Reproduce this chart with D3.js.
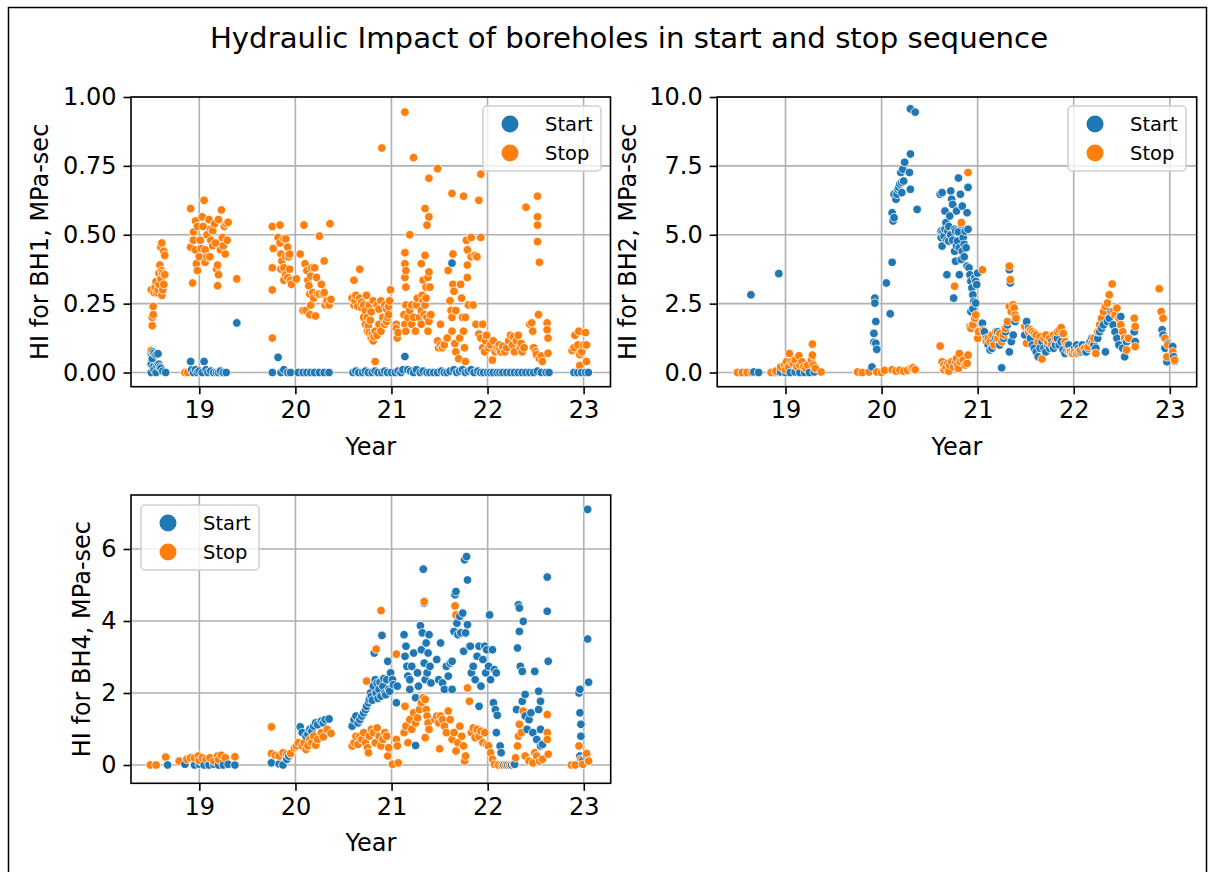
<!DOCTYPE html>
<html>
<head>
<meta charset="utf-8">
<script src="https://cdn.jsdelivr.net/npm/d3@7"></script>
<style>
  html, body { margin: 0; padding: 0; background: #ffffff; }
  svg { display: block; font-family: "DejaVu Sans", sans-serif; }
</style>
</head>
<body>
<svg id="fig" width="1212" height="872"></svg>
<script>
// Hydraulic impact (MPa-sec) per start / stop event, as [year since 2000, HI]
const years = [19, 20, 21, 22, 23];
const seriesNames = ["Start", "Stop"];

const bh1Start = [
  [18.50,0.07],[18.51,0.05],[18.52,0.075],[18.53,0.07],[18.55,0.065],[18.57,0.068],[18.50,0.03],[18.52,0.02],
  [18.53,0.01],[18.55,0.0],[18.56,0.025],[18.58,0.03],[18.59,0.02],[18.60,0.015],[18.62,0.005],[18.65,0.0],[18.50,0.0],
  [18.91,0.04],[18.92,0.01],[18.94,0.0],[18.96,0.01],[18.98,0.0],[19.00,0.005],[19.03,0.0],[19.05,0.04],[19.07,0.01],
  [19.09,0.0],[19.12,0.005],[19.15,0.0],[19.18,0.0],[19.20,0.0],[19.22,0.005],[19.25,0.0],[19.28,0.0],[19.39,0.18],
  [19.76,0.0],[19.82,0.055],[19.85,0.0],[19.88,0.01],[19.92,0.0],[19.95,0.0],[20.03,0.0],[20.08,0.0],[20.12,0.0],
  [20.16,0.0],[20.20,0.0],[20.25,0.0],[20.30,0.0],[20.35,0.0],
  [20.60,0.0],[20.63,0.005],[20.66,0.0],[20.70,0.0],[20.73,0.005],[20.76,0.0],[20.80,0.0],[20.83,0.005],[20.86,0.0],
  [20.90,0.0],[20.93,0.005],[20.96,0.0],[21.00,0.0],[21.04,0.0],[21.07,0.005],[21.10,0.0],[21.12,0.01],[21.14,0.058],
  [21.17,0.01],[21.20,0.005],[21.23,0.0],[21.26,0.01],[21.30,0.0],[21.33,0.005],[21.37,0.0],[21.40,0.0],[21.44,0.0],
  [21.48,0.0],[21.52,0.005],[21.55,0.0],[21.58,0.0],[21.61,0.005],[21.63,0.397],[21.65,0.01],[21.68,0.0],[21.71,0.005],
  [21.74,0.01],[21.77,0.0],[21.80,0.005],[21.83,0.01],[21.86,0.0],[21.90,0.005],[21.93,0.0],[21.96,0.0],[22.00,0.0],
  [22.03,0.0],[22.06,0.0],[22.10,0.0],[22.13,0.0],[22.16,0.0],[22.20,0.0],[22.24,0.0],[22.28,0.0],[22.32,0.0],
  [22.36,0.0],[22.40,0.0],[22.44,0.0],[22.48,0.0],[22.52,0.005],[22.56,0.0],[22.61,0.0],[22.64,0.0],
  [22.90,0.0],[22.94,0.0],[22.98,0.0],[23.02,0.0],[23.05,0.0]
];

const bh1Stop = [
  [18.50,0.08],[18.51,0.17],[18.51,0.20],[18.52,0.21],[18.52,0.24],[18.50,0.30],[18.54,0.31],[18.56,0.29],[18.58,0.32],
  [18.60,0.34],[18.61,0.37],[18.59,0.39],[18.60,0.455],[18.63,0.44],[18.64,0.425],[18.62,0.36],[18.61,0.28],[18.63,0.32],
  [18.64,0.355],[18.61,0.47],[18.57,0.30],[18.55,0.33],[18.58,0.36],[18.62,0.30],[18.53,0.29],[18.85,0.0],[18.88,0.0],
  [18.91,0.595],[18.93,0.325],[18.94,0.51],[18.96,0.445],[18.97,0.395],[18.91,0.455],[18.93,0.48],[18.98,0.37],[19.00,0.42],
  [19.01,0.48],[19.03,0.565],[19.05,0.625],[19.04,0.53],[19.06,0.445],[19.08,0.50],[19.10,0.555],[19.11,0.42],[19.12,0.48],
  [19.14,0.515],[19.16,0.54],[19.17,0.47],[19.19,0.39],[19.20,0.555],[19.22,0.445],[19.23,0.59],[19.24,0.49],[19.26,0.53],
  [19.27,0.43],[19.28,0.54],[19.29,0.48],[19.30,0.545],[19.20,0.355],[19.18,0.375],[19.19,0.315],[19.12,0.52],[19.08,0.42],
  [18.98,0.53],[18.96,0.55],[18.94,0.48],[19.02,0.45],[19.06,0.40],[19.14,0.46],[19.25,0.46],[19.39,0.34],
  [19.76,0.53],[19.77,0.45],[19.76,0.38],[19.76,0.30],[19.76,0.125],[19.84,0.535],[19.82,0.49],[19.84,0.47],[19.88,0.485],
  [19.90,0.485],[19.85,0.43],[19.86,0.405],[19.88,0.38],[19.90,0.42],[19.92,0.455],[19.85,0.375],[19.88,0.335],[19.90,0.355],
  [19.92,0.345],[19.94,0.375],[19.95,0.335],[19.96,0.32],[19.93,0.42],[19.94,0.43],[20.01,0.34],
  [20.05,0.43],[20.09,0.535],[20.08,0.225],[20.11,0.225],[20.10,0.395],[20.12,0.37],[20.13,0.335],[20.14,0.315],[20.15,0.285],
  [20.16,0.35],[20.17,0.38],[20.18,0.29],[20.20,0.38],[20.21,0.205],[20.22,0.345],[20.23,0.285],[20.25,0.495],[20.25,0.285],
  [20.27,0.32],[20.29,0.285],[20.30,0.405],[20.30,0.29],[20.31,0.245],[20.33,0.26],[20.36,0.54],[20.37,0.265],[20.35,0.245],
  [20.15,0.21],[20.16,0.245],[20.19,0.27],
  [20.61,0.335],[20.67,0.375],[20.59,0.27],[20.61,0.245],[20.63,0.28],[20.65,0.24],[20.67,0.27],[20.69,0.235],[20.71,0.245],
  [20.73,0.225],[20.71,0.20],[20.73,0.175],[20.75,0.20],[20.75,0.15],[20.77,0.145],[20.79,0.125],[20.81,0.115],[20.83,0.15],
  [20.85,0.135],[20.83,0.04],[20.87,0.175],[20.89,0.15],[20.91,0.20],[20.93,0.245],[20.89,0.26],[20.85,0.245],[20.81,0.26],
  [20.77,0.245],[20.74,0.28],[20.90,0.815],[20.95,0.23],[20.97,0.21],[20.98,0.26],[20.99,0.30],[20.95,0.185],[20.93,0.175],
  [20.96,0.20],[21.05,0.175],[21.05,0.16],[21.06,0.125],[21.07,0.145],[20.62,0.26],[20.69,0.255],[20.79,0.22],[20.87,0.23],
  [20.97,0.24],[20.76,0.17],[20.78,0.19],[20.80,0.14],[20.82,0.13],
  [21.14,0.945],[21.23,0.78],[21.19,0.50],[21.14,0.435],[21.14,0.395],[21.15,0.37],[21.14,0.345],[21.15,0.31],[21.15,0.245],
  [21.13,0.21],[21.14,0.175],[21.15,0.15],[21.17,0.20],[21.19,0.225],[21.21,0.245],[21.21,0.175],[21.23,0.20],[21.25,0.15],
  [21.26,0.245],[21.27,0.27],[21.29,0.20],[21.31,0.175],[21.31,0.225],[21.32,0.28],[21.33,0.26],[21.34,0.21],[21.35,0.245],
  [21.36,0.27],[21.37,0.20],[21.31,0.395],[21.33,0.335],[21.35,0.425],[21.35,0.595],[21.37,0.535],[21.39,0.565],[21.39,0.705],
  [21.36,0.31],[21.38,0.345],[21.39,0.365],[21.40,0.31],[21.41,0.21],[21.39,0.185],[21.38,0.15],[21.48,0.74],[21.51,0.175],
  [21.48,0.115],[21.49,0.09],[21.51,0.10],[21.53,0.09],[21.55,0.10],[21.58,0.125],[21.59,0.37],[21.61,0.26],[21.62,0.225],
  [21.63,0.20],[21.63,0.15],[21.63,0.65],[21.64,0.43],[21.64,0.32],[21.65,0.295],[21.67,0.225],[21.66,0.105],[21.67,0.075],
  [21.70,0.05],[21.71,0.125],[21.72,0.32],[21.73,0.27],[21.74,0.20],[21.75,0.15],[21.75,0.64],[21.76,0.09],[21.77,0.20],
  [21.78,0.48],[21.79,0.39],[21.79,0.345],[21.79,0.445],[21.80,0.245],[21.77,0.04],[21.83,0.49],[21.83,0.42],[21.85,0.245],
  [21.87,0.425],[21.88,0.175],[21.89,0.42],[21.91,0.14],[21.91,0.625],[21.93,0.72],[21.93,0.49],[21.95,0.175],[21.93,0.125],
  [21.95,0.09],
  [21.97,0.075],[21.98,0.115],[21.99,0.135],[22.01,0.09],[22.03,0.10],[22.05,0.045],[22.06,0.115],[22.08,0.075],[22.10,0.09],
  [22.12,0.10],[22.14,0.075],[22.16,0.095],[22.18,0.075],[22.20,0.09],[22.22,0.115],[22.24,0.135],[22.26,0.10],[22.28,0.075],
  [22.30,0.115],[22.32,0.135],[22.34,0.09],[22.36,0.075],[22.38,0.09],[22.40,0.60],[22.44,0.175],[22.46,0.18],[22.47,0.15],
  [22.48,0.09],[22.50,0.075],[22.51,0.065],[22.52,0.64],[22.52,0.565],[22.52,0.535],[22.52,0.475],[22.54,0.40],[22.53,0.21],
  [22.54,0.05],[22.56,0.06],[22.57,0.04],[22.62,0.18],[22.62,0.155],[22.63,0.125],[22.63,0.07],[22.35,0.105],[22.27,0.13],
  [22.12,0.08],
  [22.88,0.08],[22.90,0.09],[22.91,0.135],[22.94,0.10],[22.95,0.15],[22.96,0.065],[22.96,0.025],[22.98,0.075],[23.00,0.10],
  [23.02,0.145],[23.03,0.10],[23.03,0.04]
];

const bh2Start = [
  [18.50,0.0],[18.55,0.0],[18.60,0.0],[18.64,2.82],[18.67,0.02],[18.72,0.0],[18.85,0.0],[18.90,0.0],[18.93,3.59],
  [18.95,0.02],[19.00,0.0],[19.05,0.0],[19.10,0.02],[19.15,0.0],[19.20,0.0],[19.25,0.0],[19.30,0.02],
  [19.93,2.70],[19.93,2.52],[19.94,1.85],[19.92,1.42],[19.92,1.10],[19.94,1.06],[19.95,0.84],[19.90,0.20],[20.05,3.25],
  [20.11,4.0],[20.09,2.13],[20.11,5.8],[20.12,5.5],[20.13,5.62],[20.13,6.47],[20.15,6.29],[20.16,6.47],[20.17,6.65],
  [20.18,6.72],[20.19,6.84],[20.21,6.90],[20.21,6.53],[20.20,7.26],[20.22,7.38],[20.24,7.63],[20.23,6.95],[20.29,7.26],
  [20.30,7.93],[20.30,6.65],[20.30,9.57],[20.35,9.45],[20.37,5.92],
  [20.61,6.47],[20.63,6.53],[20.62,5.13],[20.63,4.59],[20.65,4.95],[20.66,5.86],[20.67,5.44],[20.68,3.55],[20.69,5.13],
  [20.70,4.77],[20.71,5.68],[20.72,6.59],[20.73,6.29],[20.74,6.10],[20.75,2.70],[20.76,4.40],[20.77,4.04],[20.77,5.13],
  [20.78,5.86],[20.79,4.77],[20.80,7.06],[20.81,4.53],[20.81,3.55],[20.82,6.47],[20.83,5.38],[20.83,4.10],[20.84,6.04],
  [20.85,4.90],[20.86,4.65],[20.87,5.13],[20.88,4.53],[20.89,5.80],[20.89,3.86],[20.90,6.72],[20.90,5.20],[20.91,3.80],
  [20.92,3.55],[20.93,3.31],[20.94,3.07],[20.95,2.82],[20.96,2.58],[20.97,3.43],[20.98,3.31],[20.99,3.19],[21.00,3.61],
  [20.93,2.21],[20.95,2.31],[20.98,2.52],[20.62,4.9],[20.64,5.1],[20.66,5.2],[20.68,4.8],[20.70,5.3],[20.72,5.0],
  [20.74,4.8],[20.76,5.2],[20.78,4.6],[20.80,5.1],[20.84,4.4],[20.86,4.2],
  [21.05,1.79],[21.07,1.48],[21.09,1.24],[21.11,1.0],[21.13,0.82],[21.15,0.88],[21.17,1.12],[21.19,1.24],[21.21,1.48],
  [21.23,1.0],[21.25,0.17],[21.27,1.24],[21.29,1.48],[21.31,1.73],[21.33,3.73],[21.34,3.25],[21.33,0.75],[21.35,1.12],
  [21.37,1.36],[21.39,1.85],
  [21.49,1.36],[21.51,1.85],[21.53,1.60],[21.55,1.24],[21.57,1.0],[21.59,0.88],[21.61,0.75],[21.63,0.57],[21.65,0.88],
  [21.67,1.12],[21.69,0.88],[21.71,0.75],[21.73,1.0],[21.75,0.88],[21.77,1.12],[21.79,0.88],[21.81,1.0],[21.83,1.24],
  [21.85,1.0],[21.87,1.12],[21.89,0.82],[21.91,0.69],[21.93,0.82],[21.95,1.0],[21.97,0.75],[21.99,0.69],
  [22.01,0.88],[22.03,1.0],[22.05,0.88],[22.07,0.75],[22.09,1.0],[22.11,0.88],[22.13,0.75],[22.15,0.88],[22.17,1.12],
  [22.19,1.24],[22.21,1.0],[22.23,0.88],[22.25,1.24],[22.27,1.48],[22.29,1.60],[22.31,1.73],[22.33,0.75],[22.35,1.85],
  [22.37,1.97],[22.39,2.21],[22.41,1.73],[22.43,1.48],[22.45,1.24],[22.47,1.0],[22.49,2.03],[22.51,0.88],[22.53,0.57],
  [22.55,1.12],[22.57,1.24],[22.63,1.48],[22.64,1.12],
  [22.92,1.55],[22.93,1.36],[22.95,0.88],[22.97,0.39],[22.98,1.06],[23.03,0.94],[23.04,0.57],[23.05,0.41]
];

const bh2Stop = [
  [18.50,0.0],[18.55,0.0],[18.60,0.0],[18.65,0.0],[18.85,0.0],[18.90,0.05],[18.95,0.2],[18.99,0.27],[19.01,0.39],
  [19.03,0.20],[19.04,0.69],[19.06,0.39],[19.08,0.33],[19.10,0.45],[19.14,0.61],[19.15,0.27],[19.17,0.39],[19.19,0.20],
  [19.21,0.15],[19.23,0.27],[19.27,0.45],[19.28,0.63],[19.28,1.03],[19.29,0.27],[19.31,0.15],[19.37,0.02],[19.12,0.2],
  [19.00,0.1],
  [19.75,0.02],[19.80,0.0],[19.87,0.02],[19.95,0.02],[20.00,0.0],[20.03,0.08],[20.11,0.1],[20.15,0.05],[20.19,0.08],
  [20.23,0.05],[20.27,0.08],[20.31,0.15],[20.33,0.17],[20.35,0.1],
  [20.61,0.96],[20.63,0.39],[20.65,0.27],[20.67,0.20],[20.69,0.33],[20.71,0.27],[20.73,0.39],[20.75,0.20],[20.76,3.13],
  [20.77,0.39],[20.78,0.51],[20.79,0.27],[20.81,0.69],[20.82,0.39],[20.83,5.44],[20.85,0.45],[20.87,0.27],[20.89,0.33],
  [20.90,0.63],[20.90,7.26],[20.92,1.67],[20.93,1.60],[20.95,1.73],[20.97,1.97],[20.98,2.09],[21.00,1.24],[21.01,1.48],
  [21.05,3.73],[21.06,1.54],[20.65,0.1],[20.70,0.05],[20.80,0.15],
  [21.09,1.12],[21.11,1.24],[21.13,1.12],[21.15,1.36],[21.17,1.0],[21.19,1.48],[21.21,1.24],[21.23,1.42],[21.25,1.12],
  [21.27,1.36],[21.29,1.60],[21.31,1.85],[21.33,3.86],[21.34,3.37],[21.33,2.40],[21.35,2.21],[21.37,2.46],[21.39,2.09],
  [21.40,1.97],[21.38,2.34],
  [21.49,1.67],[21.51,1.06],[21.53,1.48],[21.55,1.55],[21.57,1.48],[21.59,1.42],[21.61,1.36],[21.63,1.12],[21.65,1.30],
  [21.67,0.49],[21.69,1.24],[21.71,1.36],[21.73,1.12],[21.75,1.24],[21.77,1.0],[21.79,1.36],[21.81,1.24],[21.83,1.48],
  [21.85,1.55],[21.87,1.63],[21.89,1.42],[21.91,1.12],[21.93,1.0],[21.95,0.75],[21.97,0.75],[21.99,0.69],
  [22.01,0.75],[22.03,0.69],[22.05,0.75],[22.07,0.82],[22.11,0.88],[22.15,0.94],[22.19,1.06],[22.21,1.24],[22.23,0.69],
  [22.25,1.48],[22.27,1.73],[22.29,1.97],[22.31,2.21],[22.33,2.40],[22.35,2.52],[22.37,2.82],[22.40,3.21],[22.41,2.21],
  [22.43,2.09],[22.45,2.34],[22.47,1.97],[22.49,1.73],[22.51,1.48],[22.53,1.24],[22.55,0.82],[22.57,1.24],[22.63,1.97],
  [22.64,1.67],[22.64,0.94],
  [22.89,3.04],[22.91,2.21],[22.93,1.97],[22.95,1.24],[22.97,0.57],[22.98,1.0],[23.03,0.75],[23.05,0.45]
];

const bh4Start = [
  [18.67,0.0],[18.85,0.02],[18.95,0.0],[19.00,0.02],[19.05,0.0],[19.10,0.0],[19.15,0.02],[19.20,0.0],[19.25,0.0],
  [19.30,0.02],[19.37,0.0],
  [19.75,0.06],[19.83,0.03],[19.87,0.0],[19.91,0.16],[19.93,0.25],[19.95,0.32],[20.05,1.06],[20.07,0.90],[20.11,0.80],
  [20.13,0.85],[20.15,0.99],[20.17,0.94],[20.19,1.08],[20.21,1.17],[20.23,1.12],[20.27,1.22],[20.29,1.17],[20.31,1.26],
  [20.35,1.28],
  [20.59,1.08],[20.61,1.26],[20.63,1.36],[20.65,1.17],[20.67,1.26],[20.69,1.36],[20.71,1.45],[20.73,1.54],[20.74,1.63],
  [20.76,1.73],[20.77,1.82],[20.78,2.0],[20.79,1.91],[20.81,2.19],[20.83,2.37],[20.85,2.28],[20.82,3.11],[20.90,3.60],
  [20.87,2.10],[20.89,1.91],[20.91,2.19],[20.93,2.0],[20.95,2.37],[20.96,2.88],[20.97,2.10],[20.99,2.56],[21.01,2.37],
  [21.02,2.23],[21.05,1.73],[21.06,2.19],[20.80,1.8],[20.84,2.0],[20.86,1.85],[20.88,2.3],[20.92,2.4],[20.94,1.95],
  [20.98,2.05],
  [21.13,3.62],[21.15,3.30],[21.14,3.02],[21.16,2.74],[21.17,2.47],[21.19,2.37],[21.19,2.10],[21.21,2.74],[21.23,3.11],
  [21.25,1.87],[21.25,0.54],[21.27,2.56],[21.28,2.19],[21.30,3.87],[21.31,3.20],[21.32,3.67],[21.33,5.44],[21.34,4.50],
  [21.34,2.83],[21.35,2.37],[21.36,3.39],[21.37,2.56],[21.38,3.11],[21.39,3.62],[21.40,2.74],[21.41,2.28],
  [21.47,2.93],[21.49,2.37],[21.51,3.39],[21.53,2.28],[21.55,2.10],[21.57,2.74],[21.59,2.47],[21.61,2.83],[21.63,2.10],
  [21.63,2.88],[21.65,3.71],[21.66,4.73],[21.67,4.82],[21.68,3.94],[21.69,3.62],[21.71,4.13],[21.72,3.67],[21.74,4.22],
  [21.75,3.16],[21.76,5.70],[21.78,5.79],[21.79,5.14],[21.77,3.67],[21.79,3.90],[21.81,3.30],[21.82,3.30],
  [21.83,2.56],[21.85,2.74],[21.87,2.37],[21.89,3.02],[21.91,3.30],[21.91,1.63],[21.93,2.19],[21.95,2.93],[21.97,3.30],
  [21.98,2.56],[21.99,3.20],[22.01,2.74],[22.02,4.17],[22.03,2.37],[22.05,3.20],[22.06,1.73],[22.07,2.65],[22.09,2.56],
  [22.08,1.54],[22.10,1.38],[22.09,0.90],[22.13,0.53],[22.14,0.34],[22.17,0.0],[22.21,0.0],[22.25,0.0],[22.28,0.02],
  [22.30,1.54],[22.31,3.25],[22.32,4.45],[22.33,4.36],[22.33,3.71],[22.34,2.74],[22.36,2.60],[22.37,3.99],[22.36,1.77],
  [22.39,1.96],[22.39,1.36],[22.41,0.99],[22.43,1.26],[22.45,1.45],[22.47,0.90],[22.49,2.60],[22.51,0.71],[22.53,1.54],
  [22.53,2.05],[22.55,1.77],[22.55,0.99],[22.57,0.57],[22.62,5.22],[22.62,4.27],[22.63,2.88],[22.55,0.53],
  [22.95,2.0],[22.96,2.10],[22.96,1.45],[22.97,1.13],[22.97,0.80],[22.96,0.25],[22.99,0.11],[23.04,7.10],[23.04,3.50],
  [23.05,2.30],[23.03,0.25],[23.05,0.11]
];

const bh4Stop = [
  [18.49,0.0],[18.55,0.0],[18.65,0.22],[18.79,0.11],[18.87,0.16],[18.91,0.2],[18.95,0.2],[18.99,0.25],[19.03,0.2],
  [19.07,0.16],[19.11,0.2],[19.15,0.11],[19.19,0.25],[19.23,0.27],[19.27,0.2],[19.37,0.23],[19.00,0.12],[19.20,0.15],
  [19.75,1.06],[19.75,0.32],[19.79,0.27],[19.83,0.25],[19.87,0.34],[19.91,0.3],[19.95,0.32],[19.99,0.48],[20.01,0.53],
  [20.03,0.62],[20.07,0.53],[20.09,0.62],[20.11,0.43],[20.13,0.53],[20.15,0.71],[20.17,0.62],[20.19,0.8],[20.21,0.55],
  [20.23,0.71],[20.27,0.9],[20.29,0.78],[20.33,0.99],[20.37,0.88],
  [20.59,0.53],[20.61,0.62],[20.63,0.8],[20.65,0.57],[20.67,0.8],[20.69,0.71],[20.71,0.9],[20.73,0.62],[20.74,2.33],
  [20.75,0.48],[20.76,0.34],[20.77,0.8],[20.79,0.99],[20.81,0.9],[20.83,0.62],[20.84,3.22],[20.85,1.03],[20.87,0.8],
  [20.89,4.29],[20.89,0.53],[20.91,0.71],[20.93,0.9],[20.95,0.8],[20.96,0.25],[20.97,0.48],[21.01,0.02],[21.05,3.08],
  [21.05,0.71],[21.06,0.53],[21.07,0.06],
  [21.13,0.9],[21.14,1.63],[21.15,1.08],[21.17,0.62],[21.19,1.26],[21.21,0.99],[21.23,1.45],[21.25,1.17],[21.27,1.31],
  [21.29,1.54],[21.31,1.73],[21.33,1.87],[21.34,4.54],[21.35,1.82],[21.36,1.54],[21.37,1.36],[21.38,1.17],[21.35,0.76],
  [21.39,0.99],
  [21.45,1.26],[21.47,1.36],[21.49,1.17],[21.50,0.45],[21.51,1.36],[21.53,1.26],[21.55,1.08],[21.57,0.90],[21.59,1.50],
  [21.61,1.26],[21.63,0.71],[21.65,0.90],[21.66,4.42],[21.67,4.17],[21.67,0.39],[21.69,0.62],[21.71,1.08],[21.73,0.80],
  [21.75,0.53],[21.76,0.11],[21.77,0.25],[21.79,2.14],[21.81,1.77],[21.83,0.90],[21.85,1.03],[21.87,0.76],[21.89,0.99],
  [21.91,0.80],[21.93,0.94],[21.95,0.62],[21.97,0.90],[21.99,0.57],
  [22.01,0.53],[22.03,0.34],[22.05,0.16],[22.07,0.02],[22.11,0.0],[22.15,0.0],[22.19,0.0],[22.23,0.0],[22.27,0.02],
  [22.29,0.2],[22.31,0.53],[22.32,0.80],[22.33,1.13],[22.35,0.90],[22.37,1.50],[22.39,0.25],[22.43,0.11],[22.47,0.06],
  [22.49,0.34],[22.51,0.25],[22.54,0.11],[22.57,0.16],[22.62,1.40],[22.62,0.90],[22.62,0.71],[22.63,0.30],
  [22.87,0.0],[22.91,0.0],[22.95,0.53],[22.97,0.16],[22.99,0.02],[23.03,0.32],[23.05,0.11]
];

const bh1Ticks = [0, 0.25, 0.5, 0.75, 1.0];
const bh2Ticks = [0, 2.5, 5, 7.5, 10];
const bh4Ticks = [0, 2, 4, 6];

const colors = { Start: "#1f77b4", Stop: "#ff7f0e" };

const svg = d3.select("#fig");

// figure frame
svg.append("rect")
  .attr("x", 8.5).attr("y", 7.5).attr("width", 1198).attr("height", 900)
  .attr("fill", "none").attr("stroke", "#000").attr("stroke-width", 1.5);

svg.append("text")
  .attr("x", 629).attr("y", 48)
  .attr("text-anchor", "middle")
  .attr("font-size", 29.2)
  .attr("fill", "#000")
  .text("Hydraulic Impact of boreholes in start and stop sequence");

const panels = [
  { start: bh1Start, stop: bh1Stop, ticks: bh1Ticks, fmt: d3.format(".2f"), label: "HI for BH1, MPa-sec",
    box: { left: 131, right: 610.5, top: 97, bottom: 386.7 }, yDomain: [-0.0515, 1.0], labelX: 40,
    legend: { x: 483, y: 106 } },
  { start: bh2Start, stop: bh2Stop, ticks: bh2Ticks, fmt: d3.format(".1f"), label: "HI for BH2, MPa-sec",
    box: { left: 717.2, right: 1196.7, top: 97, bottom: 386.7 }, yDomain: [-0.515, 10.0], labelX: 628,
    legend: { x: 1068, y: 106 } },
  { start: bh4Start, stop: bh4Stop, ticks: bh4Ticks, fmt: d3.format("d"), label: "HI for BH4, MPa-sec",
    box: { left: 131, right: 610.7, top: 495, bottom: 783.3 }, yDomain: [-0.508, 7.5], labelX: 82,
    legend: { x: 141, y: 505 } }
];

const xDomain = [18.289, 23.28];
const gridColor = "#b0b0b0";
const tickFont = 24;

panels.forEach(p => {
  const b = p.box;
  const x = d3.scaleLinear().domain(xDomain).range([b.left, b.right]);
  const y = d3.scaleLinear().domain(p.yDomain).range([b.bottom, b.top]);
  const g = svg.append("g");

  // grid
  g.append("g").selectAll("line").data(years).join("line")
    .attr("x1", d => x(d)).attr("x2", d => x(d))
    .attr("y1", b.top).attr("y2", b.bottom)
    .attr("stroke", gridColor).attr("stroke-width", 1.6);
  g.append("g").selectAll("line").data(p.ticks).join("line")
    .attr("x1", b.left).attr("x2", b.right)
    .attr("y1", d => y(d)).attr("y2", d => y(d))
    .attr("stroke", gridColor).attr("stroke-width", 1.6);

  // points, merged in time order
  const pts = p.start.map(d => ({ t: d[0], v: d[1], s: "Start" }))
    .concat(p.stop.map(d => ({ t: d[0], v: d[1], s: "Stop" })))
    .sort((a, c) => a.t - c.t);
  g.append("g").selectAll("circle").data(pts).join("circle")
    .attr("cx", d => x(d.t)).attr("cy", d => y(d.v)).attr("r", 4.3)
    .attr("fill", d => colors[d.s])
    .attr("stroke", "#fff").attr("stroke-width", 0.8);

  // axes
  const xAxis = d3.axisBottom(x).tickValues(years).tickFormat(d3.format("d")).tickSize(7.5).tickPadding(7);
  const yAxis = d3.axisLeft(y).tickValues(p.ticks).tickFormat(p.fmt).tickSize(7.5).tickPadding(7);
  const gx = g.append("g").attr("transform", `translate(0,${b.bottom})`).call(xAxis);
  const gy = g.append("g").attr("transform", `translate(${b.left},0)`).call(yAxis);
  [gx, gy].forEach(a => {
    a.select(".domain").remove();
    a.selectAll(".tick line").attr("stroke", "#000").attr("stroke-width", 1.6);
    a.selectAll(".tick text").attr("fill", "#000").attr("font-size", tickFont)
      .attr("font-family", "DejaVu Sans, sans-serif");
  });

  // spines
  g.append("rect")
    .attr("x", b.left).attr("y", b.top)
    .attr("width", b.right - b.left).attr("height", b.bottom - b.top)
    .attr("fill", "none").attr("stroke", "#000").attr("stroke-width", 1.6);

  // axis labels
  g.append("text")
    .attr("x", (b.left + b.right) / 2).attr("y", b.bottom + 68)
    .attr("text-anchor", "middle").attr("font-size", tickFont).attr("fill", "#000")
    .text("Year");
  g.append("text")
    .attr("transform", `translate(${p.labelX},${(b.top + b.bottom) / 2}) rotate(-90)`)
    .attr("text-anchor", "middle").attr("dy", "0.35em")
    .attr("font-size", tickFont).attr("fill", "#000")
    .text(p.label);

  // legend
  const lg = g.append("g").attr("transform", `translate(${p.legend.x},${p.legend.y})`);
  lg.append("rect").attr("width", 118).attr("height", 65).attr("rx", 4)
    .attr("fill", "#fff").attr("fill-opacity", 0.8)
    .attr("stroke", "#d0d0d0").attr("stroke-width", 1.5);
  seriesNames.forEach((s, i) => {
    lg.append("circle").attr("cx", 27).attr("cy", 18 + i * 29).attr("r", 8.5)
      .attr("fill", colors[s]);
    lg.append("text").attr("x", 62).attr("y", 18 + i * 29).attr("dy", "0.35em")
      .attr("font-size", 19.5).attr("fill", "#000").text(s);
  });
});
</script>
</body>
</html>
